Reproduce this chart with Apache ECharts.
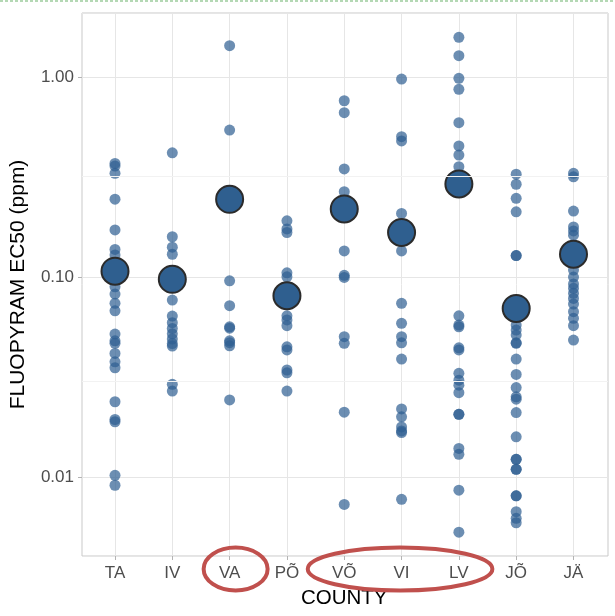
<!DOCTYPE html>
<html>
<head>
<meta charset="utf-8">
<script src="https://cdn.jsdelivr.net/npm/echarts@6/dist/echarts.min.js"></script>
<style>
  html, body { margin: 0; padding: 0; background: #ffffff; }
  #chart { width: 615px; height: 616px; }
</style>
</head>
<body>
<div id="chart"></div>
<script>
// County codes along the x axis
const categories = ['TA', 'IV', 'VA', 'PÕ', 'VÕ', 'VI', 'LV', 'JÕ', 'JÄ'];

// Individual isolate EC50 values (ppm), one array per county
const ecTA = [0.370, 0.359, 0.330, 0.245, 0.172, 0.1375, 0.129, 0.117, 0.0894, 0.0822, 0.0739, 0.0678,
              0.0519, 0.048, 0.0466, 0.0415, 0.0377, 0.0352, 0.0238, 0.0194, 0.0189, 0.0102, 0.0091];
const ecIV = [0.418, 0.159, 0.141, 0.130, 0.0767, 0.0638, 0.0591, 0.0553, 0.052, 0.049, 0.0465, 0.0452,
              0.0291, 0.0269];
const ecVA = [1.434, 0.543, 0.0958, 0.0719, 0.0564, 0.0555, 0.048, 0.047, 0.0453, 0.0243];
const ecPO = [0.191, 0.174, 0.167, 0.105, 0.1003, 0.064, 0.061, 0.0571, 0.0448, 0.0432, 0.0343, 0.0332,
              0.0269];
const ecVO = [0.761, 0.663, 0.347, 0.267, 0.135, 0.102, 0.0995, 0.0503, 0.0466, 0.0211, 0.0073];
const ecVI = [0.977, 0.503, 0.479, 0.208, 0.135, 0.0739, 0.0587, 0.0503, 0.0469, 0.0389, 0.0219, 0.020,
              0.0178, 0.017, 0.0167, 0.00774];
const ecLV = [1.58, 1.278, 0.985, 0.868, 0.591, 0.452, 0.407, 0.356, 0.064, 0.0575, 0.0564, 0.0443,
              0.0432, 0.033, 0.0305, 0.0288, 0.0264, 0.0206, 0.0206, 0.0139, 0.013, 0.0086, 0.0053];
const ecJO = [0.327, 0.291, 0.2475, 0.212, 0.128, 0.128, 0.0575, 0.0543, 0.0513, 0.0466, 0.0469, 0.0389,
              0.0326, 0.028, 0.0252, 0.0245, 0.021, 0.0159, 0.01227, 0.01227, 0.01093, 0.01093,
              0.00806, 0.00806, 0.00671, 0.00622, 0.00591];
const ecJA = [0.330, 0.317, 0.2138, 0.178, 0.170, 0.162, 0.1084, 0.1, 0.0923, 0.0878, 0.0829, 0.0782,
              0.0733, 0.0671, 0.0622, 0.0571, 0.0484];

// County means (ppm)
const countyMeans = [0.107, 0.0974, 0.2446, 0.0806, 0.219, 0.167, 0.292, 0.0697, 0.130];

// Log axis range, labelled breaks and the half-decade minor breaks
const yRange = [0.00403, 2.09];
const tickValues = [0.01, 0.1, 1];
const tickLabels = ['0.01', '0.10', '1.00'];
const minorBreaks = [0.0316, 0.316];

// Counties to highlight with a hand-drawn ring
const ringGroups = [['VA'], ['VÕ', 'VI', 'LV']];

const perCounty = [ecTA, ecIV, ecVA, ecPO, ecVO, ecVI, ecLV, ecJO, ecJA];
const pointData = [];
perCounty.forEach((vals, i) => vals.forEach(v => pointData.push([categories[i], v])));
const meanData = countyMeans.map((v, i) => [categories[i], v]);

const font = 'Liberation Sans, Arial, Helvetica, sans-serif';

function tickLabel(v) {
  for (let i = 0; i < tickValues.length; i++) {
    if (Math.abs(Math.log10(v) - Math.log10(tickValues[i])) < 1e-6) return tickLabels[i];
  }
  return '';
}

const chart = echarts.init(document.getElementById('chart'), null, { renderer: 'canvas' });

chart.setOption({
  animation: false,
  backgroundColor: '#ffffff',
  grid: [
    { left: 81, right: 7, top: 13, bottom: 60, show: true, borderColor: '#c9c9c9', borderWidth: 1,
      backgroundColor: 'transparent' },
    { left: 115, right: 41.5, top: 13, bottom: 60 }
  ],
  xAxis: [
    { gridIndex: 0, type: 'value', min: 0, max: 1, show: false },
    {
      gridIndex: 1, type: 'category', data: categories, boundaryGap: false,
      axisLine: { show: false },
      axisTick: { show: true, length: 4, lineStyle: { color: '#b3b3b3' } },
      axisLabel: { color: '#4d4d4d', fontSize: 17, fontFamily: font, margin: 9 },
      splitLine: { show: true, lineStyle: { color: '#e6e6e6', width: 1 } },
      name: 'COUNTY', nameLocation: 'middle', nameGap: 32,
      nameTextStyle: { color: '#000000', fontSize: 20.5, fontFamily: font }
    }
  ],
  yAxis: [
    {
      gridIndex: 0, type: 'log', logBase: 10, min: yRange[0], max: yRange[1],
      axisLine: { show: false },
      axisTick: { show: true, length: 4, lineStyle: { color: '#b3b3b3' } },
      axisLabel: { color: '#4d4d4d', fontSize: 17, fontFamily: font, margin: 8,
                   showMinLabel: false, showMaxLabel: false, formatter: tickLabel },
      splitLine: { show: true, lineStyle: { color: '#e6e6e6', width: 1 } },
      name: 'FLUOPYRAM EC50 (ppm)', nameLocation: 'middle', nameGap: 53,
      nameTextStyle: { color: '#000000', fontSize: 21, fontFamily: font }
    },
    { gridIndex: 1, type: 'log', logBase: 10, min: yRange[0], max: yRange[1], show: false,
      splitLine: { show: false } }
  ],
  series: [
    {
      // half-decade minor grid lines
      type: 'line', xAxisIndex: 0, yAxisIndex: 0, data: [], silent: true, z: 1,
      markLine: {
        silent: true, symbol: 'none', animation: false,
        label: { show: false },
        lineStyle: { color: '#f2f2f2', width: 1, type: 'solid' },
        data: minorBreaks.map(v => ({ yAxis: v }))
      }
    },
    {
      name: 'isolates', type: 'scatter', xAxisIndex: 1, yAxisIndex: 1, data: pointData,
      symbolSize: 11, z: 3,
      itemStyle: { color: '#2d5e92', opacity: 0.7 }
    },
    {
      name: 'mean', type: 'scatter', xAxisIndex: 1, yAxisIndex: 1, data: meanData,
      symbolSize: 27, z: 4,
      itemStyle: { color: '#2f5f8f', opacity: 1, borderColor: '#2b2b2b', borderWidth: 2 }
    }
  ]
});

// Red rings around the highlighted county labels, placed from the axis positions
const xOf = c => chart.convertToPixel({ xAxisIndex: 1 }, c);
const axisBottom = chart.convertToPixel({ yAxisIndex: 0 }, yRange[0]);
const rings = ringGroups.map(group => {
  const x0 = xOf(group[0]);
  const x1 = xOf(group[group.length - 1]);
  const half = (x1 - x0) / 2;
  const single = group.length === 1;
  return {
    type: 'ellipse', silent: true, z: 10,
    shape: { cx: (x0 + x1) / 2 + (single ? 6 : -1.5), cy: axisBottom + 13,
             rx: half + (single ? 32 : 35), ry: 21.5 },
    style: { fill: 'none', stroke: '#c0504d', lineWidth: 4 }
  };
});

chart.setOption({
  graphic: rings.concat([{
    type: 'line', silent: true, z: 10,
    shape: { x1: 0, y1: 1, x2: 615, y2: 1 },
    style: { stroke: '#9ccc9c', lineWidth: 1.5, lineDash: [3, 2] }
  }])
});
</script>
</body>
</html>
